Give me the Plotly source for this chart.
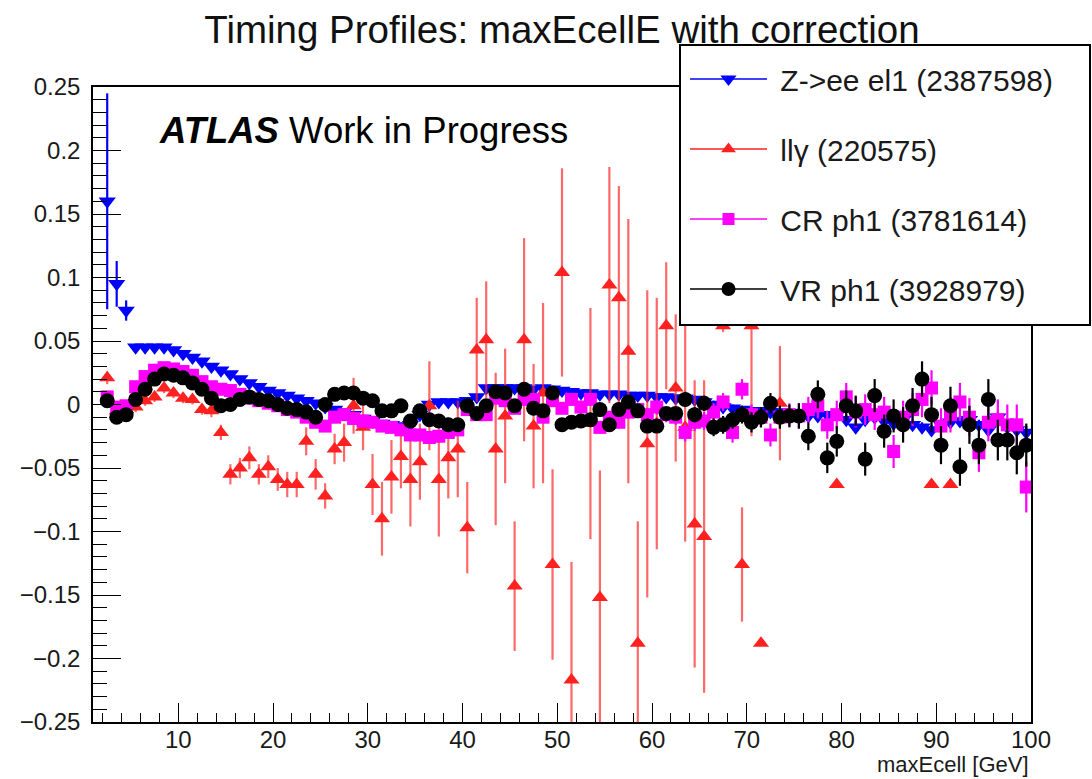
import plotly.graph_objects as go

# bin centres of maxEcell [GeV]
maxecell = [k + 0.5 for k in range(2, 100)]

zee = [0.160, 0.095, 0.074, 0.045, 0.045, 0.045, 0.045, 0.043, 0.040, 0.037,
       0.034, 0.030, 0.027, 0.024, 0.020, 0.017, 0.014, 0.011, 0.009, 0.007,
       0.005, 0.003, 0.001, -0.002, -0.004, -0.006, -0.008, -0.011, -0.013, -0.015,
       -0.016, -0.017, -0.016, -0.008, 0.000, 0.002, 0.002, 0.002, 0.003, 0.006,
       0.013, 0.013, 0.013, 0.013, 0.013, 0.012, 0.013, 0.012, 0.011, 0.010,
       0.009, 0.009, 0.008, 0.008, 0.008, 0.007, 0.007, 0.007, 0.006, 0.006,
       0.005, 0.005, 0.004, 0.002, 0.000, -0.002, -0.003, -0.004, -0.005, -0.005,
       -0.006, -0.006, -0.007, -0.008, -0.009, -0.009, -0.008, -0.008, -0.012, -0.018,
       -0.012, -0.010, -0.013, -0.015, -0.012, -0.016, -0.018, -0.020, -0.016, -0.014,
       -0.013, -0.012, -0.016, -0.020, -0.010, -0.018, -0.020, -0.022]
zee_err = [0.085, 0.018, 0.008, 0.003, 0.002, 0.002, 0.002, 0.002, 0.002, 0.002,
           0.002, 0.002, 0.002, 0.002, 0.002, 0.002, 0.002, 0.002, 0.002, 0.002,
           0.002, 0.002, 0.002, 0.002, 0.002, 0.002, 0.002, 0.002, 0.002, 0.002,
           0.002, 0.002, 0.002, 0.002, 0.002, 0.002, 0.002, 0.002, 0.002, 0.002,
           0.002, 0.002, 0.002, 0.002, 0.002, 0.002, 0.002, 0.002, 0.002, 0.002,
           0.002, 0.002, 0.002, 0.002, 0.002, 0.002, 0.002, 0.002, 0.003, 0.003,
           0.003, 0.003, 0.003, 0.003, 0.003, 0.003, 0.003, 0.003, 0.003, 0.003,
           0.003, 0.003, 0.003, 0.003, 0.003, 0.003, 0.003, 0.003, 0.004, 0.004,
           0.004, 0.004, 0.004, 0.004, 0.004, 0.004, 0.004, 0.004, 0.004, 0.004,
           0.004, 0.004, 0.004, 0.004, 0.004, 0.004, 0.004, 0.005]

llg = [0.021, -0.005, -0.004, -0.002, 0.003, 0.006, 0.013, 0.009, 0.005, 0.004,
       -0.004, -0.005, -0.022, -0.055, -0.050, -0.042, -0.055, -0.049, -0.059, -0.063,
       -0.063, -0.029, -0.055, -0.072, -0.035, -0.030, -0.001, -0.018, -0.063, -0.090,
       -0.057, -0.041, -0.059, -0.045, -0.001, -0.059, -0.042, -0.035, -0.097, 0.043,
       0.051, -0.035, -0.009, -0.143, 0.051, -0.017, 0.009, -0.126, 0.104, -0.217,
       None, -0.015, -0.152, 0.094, 0.084, 0.042, -0.188, -0.031, -0.015, 0.062,
       0.013, -0.018, -0.094, -0.104, None, 0.062, None, -0.126, 0.062, -0.188,
       None, 0.001, None, None, None, None, None, -0.063, None, None,
       None, None, None, None, None, None, None, -0.063, None, -0.063,
       None, None, None, None, None, None, None, None]
llg_err = [0.005, 0.004, 0.004, 0.004, 0.004, 0.004, 0.004, 0.004, 0.004, 0.004,
           0.004, 0.005, 0.006, 0.008, 0.008, 0.009, 0.008, 0.009, 0.009, 0.010,
           0.010, 0.011, 0.012, 0.010, 0.012, 0.015, 0.022, 0.018, 0.024, 0.029,
           0.029, 0.025, 0.037, 0.030, 0.035, 0.045, 0.032, 0.038, 0.036, 0.041,
           0.046, 0.060, 0.053, 0.051, 0.080, 0.049, 0.071, 0.075, 0.082, 0.093,
           0.0, 0.091, 0.100, 0.093, 0.088, 0.104, 0.096, 0.121, 0.099, 0.050,
           0.058, 0.090, 0.113, 0.123, 0.0, 0.005, 0.0, 0.045, 0.087, 0.0,
           0.0, 0.045, 0.0, 0.0, 0.0, 0.0, 0.0, 0.0, 0.0, 0.0,
           0.0, 0.0, 0.0, 0.0, 0.0, 0.0, 0.0, 0.0, 0.0, 0.0,
           0.0, 0.0, 0.0, 0.0, 0.0, 0.0, 0.0, 0.0]

cr = [0.006, -0.002, -0.001, 0.014, 0.022, 0.027, 0.029, 0.028, 0.026, 0.023,
      0.018, 0.014, 0.012, 0.011, 0.008, 0.005, 0.003, 0.001, -0.001, -0.004,
      -0.006, -0.010, -0.014, -0.017, -0.010, -0.008, -0.011, -0.013, -0.014, -0.017,
      -0.018, -0.020, -0.024, -0.024, -0.026, -0.025, -0.022, -0.020, -0.004, -0.008,
      -0.008, 0.005, 0.003, -0.003, 0.004, 0.004, -0.010, 0.003, -0.003, 0.004,
      -0.002, 0.004, -0.018, -0.010, -0.014, -0.006, -0.004, -0.008, -0.002, -0.008,
      -0.010, -0.022, -0.014, -0.013, -0.006, 0.002, -0.022, 0.012, -0.008, -0.010,
      -0.024, -0.010, -0.008, -0.009, -0.004, -0.001, -0.016, -0.008, 0.006, -0.006,
      -0.004, -0.008, -0.006, -0.037, -0.010, -0.004, 0.004, 0.013, -0.017, -0.008,
      0.002, -0.010, -0.038, -0.014, -0.012, -0.016, -0.016, -0.065]
cr_err = [0.003, 0.002, 0.002, 0.002, 0.002, 0.002, 0.002, 0.002, 0.002, 0.002,
          0.002, 0.002, 0.002, 0.002, 0.002, 0.002, 0.002, 0.002, 0.002, 0.002,
          0.002, 0.002, 0.002, 0.002, 0.002, 0.002, 0.002, 0.002, 0.002, 0.002,
          0.003, 0.003, 0.003, 0.003, 0.003, 0.003, 0.003, 0.003, 0.003, 0.003,
          0.004, 0.004, 0.004, 0.004, 0.004, 0.004, 0.004, 0.004, 0.004, 0.004,
          0.005, 0.005, 0.005, 0.005, 0.005, 0.005, 0.005, 0.005, 0.006, 0.006,
          0.006, 0.007, 0.007, 0.007, 0.007, 0.007, 0.008, 0.008, 0.008, 0.008,
          0.009, 0.009, 0.009, 0.010, 0.010, 0.010, 0.011, 0.011, 0.011, 0.012,
          0.012, 0.012, 0.012, 0.013, 0.013, 0.013, 0.014, 0.014, 0.014, 0.014,
          0.015, 0.015, 0.015, 0.015, 0.016, 0.016, 0.016, 0.020]

vr = [0.003, -0.010, -0.008, 0.004, 0.012, 0.020, 0.024, 0.023, 0.021, 0.017,
      0.012, 0.005, -0.001, 0.000, 0.004, 0.006, 0.004, 0.003, 0.000, -0.003,
      -0.004, -0.006, -0.010, 0.000, 0.008, 0.009, 0.009, 0.005, 0.003, -0.005,
      -0.005, -0.001, -0.013, -0.005, -0.012, -0.013, -0.016, -0.016, -0.001, -0.007,
      -0.001, 0.010, 0.009, -0.001, 0.012, -0.003, -0.005, 0.009, -0.016, -0.014,
      -0.013, -0.012, -0.004, -0.016, -0.004, 0.002, -0.005, -0.017, -0.017, -0.007,
      -0.007, 0.004, -0.008, 0.001, -0.018, -0.016, -0.012, -0.008, -0.014, -0.010,
      0.001, -0.010, -0.009, -0.009, -0.025, 0.008, -0.042, -0.029, -0.001, -0.005,
      -0.043, 0.007, -0.021, -0.009, -0.016, -0.001, 0.020, -0.008, -0.032, -0.001,
      -0.049, -0.016, -0.032, 0.004, -0.028, -0.028, -0.038, -0.032]
vr_err = [0.003, 0.002, 0.002, 0.002, 0.002, 0.002, 0.002, 0.002, 0.002, 0.002,
          0.002, 0.002, 0.002, 0.002, 0.002, 0.002, 0.002, 0.002, 0.002, 0.002,
          0.002, 0.002, 0.002, 0.002, 0.002, 0.002, 0.002, 0.002, 0.003, 0.003,
          0.003, 0.003, 0.003, 0.003, 0.003, 0.003, 0.003, 0.003, 0.003, 0.003,
          0.003, 0.003, 0.004, 0.004, 0.004, 0.004, 0.004, 0.004, 0.004, 0.004,
          0.004, 0.004, 0.004, 0.004, 0.005, 0.005, 0.005, 0.005, 0.005, 0.005,
          0.005, 0.006, 0.006, 0.006, 0.007, 0.007, 0.007, 0.007, 0.008, 0.008,
          0.008, 0.009, 0.009, 0.010, 0.011, 0.011, 0.012, 0.012, 0.012, 0.012,
          0.013, 0.013, 0.013, 0.013, 0.014, 0.014, 0.014, 0.014, 0.015, 0.015,
          0.015, 0.015, 0.015, 0.016, 0.016, 0.016, 0.017, 0.017]

legend_labels = ["Z->ee el1 (2387598)", "llγ (220575)", "CR ph1 (3781614)", "VR ph1 (3928979)"]
y_tickvals = [-0.25, -0.2, -0.15, -0.1, -0.05, 0.0, 0.05, 0.1, 0.15, 0.2, 0.25]
y_ticktext = ["\u22120.25", "\u22120.2", "\u22120.15", "\u22120.1", "\u22120.05", "0",
              "0.05", "0.1", "0.15", "0.2", "0.25"]
x_tickvals = [10, 20, 30, 40, 50, 60, 70, 80, 90, 100]
x_ticktext = ["10", "20", "30", "40", "50", "60", "70", "80", "90", "100"]

FONT = "Liberation Sans, Arial, Helvetica, sans-serif"
W, H = 1092, 779
L, R, T, B = 93, 61, 87, 57
PW, PH = W - L - R, H - T - B


def px_x(p):
    return (p - L) / PW


def px_y(p):
    return (H - B - p) / PH


styles = [
    dict(name=legend_labels[0], y=zee, err=zee_err, color="#0000ff", ecolor="#0000ff",
         symbol="triangle-down", size=15),
    dict(name=legend_labels[1], y=llg, err=llg_err, color="#ff2020", ecolor="rgba(255,40,40,0.7)",
         symbol="triangle-up", size=14),
    dict(name=legend_labels[2], y=cr, err=cr_err, color="#ff00ff", ecolor="#ff00ff",
         symbol="square", size=13),
    dict(name=legend_labels[3], y=vr, err=vr_err, color="#000000", ecolor="#000000",
         symbol="circle", size=15),
]

fig = go.Figure()
for s in styles:
    fig.add_trace(go.Scatter(
        x=maxecell, y=s["y"], mode="markers", showlegend=False,
        marker=dict(symbol=s["symbol"], size=s["size"], color=s["color"], line=dict(width=0)),
        error_y=dict(type="data", array=s["err"], visible=True, thickness=2.2, width=0,
                     color=s["ecolor"]),
        hoverinfo="x+y",
    ))
for i, s in enumerate(styles):
    fig.add_trace(go.Scatter(
        x=[None], y=[None], mode="lines+markers", name="\u00a0" + s["name"],
        legendgroup="g%d" % i,
        line=dict(color=s["color"], width=1.5),
        marker=dict(symbol=s["symbol"], size=s["size"] - 1, color=s["color"]),
    ))

axis_common = dict(showline=True, linecolor="#000000", linewidth=1.5, mirror=True,
                   ticks="inside", tickcolor="#000000", tickwidth=1.3, showgrid=False,
                   zeroline=False, tickfont=dict(family=FONT, size=24, color="#1a1a1a"))

fig.update_layout(
    width=W, height=H,
    margin=dict(l=L, r=R, t=T, b=B, pad=0),
    paper_bgcolor="white", plot_bgcolor="white",
    font=dict(family=FONT, color="#1a1a1a"),
    title=dict(text="Timing Profiles: maxEcellE with correction", x=562 / W, xanchor="center",
               xref="container", y=1 - 30 / H, yanchor="middle", yref="container",
               font=dict(family=FONT, size=38.5, color="#111111")),
    xaxis=dict(range=[1, 100], tickvals=x_tickvals, ticktext=x_ticktext, ticklen=19,
               minor=dict(dtick=2, tick0=0, ticklen=9, ticks="inside", tickcolor="#000000",
                          tickwidth=1.3, showgrid=False),
               ticklabelstandoff=-5, **axis_common),
    yaxis=dict(range=[-0.25, 0.25], tickvals=y_tickvals, ticktext=y_ticktext, ticklen=28,
               minor=dict(dtick=0.01, tick0=0, ticklen=14, ticks="inside", tickcolor="#000000",
                          tickwidth=1.3, showgrid=False),
               ticklabelstandoff=6, **axis_common),
    legend=dict(x=px_x(685), y=px_y(53), xanchor="left", yanchor="top",
                bgcolor="rgba(0,0,0,0)", borderwidth=0, tracegroupgap=28, itemwidth=77,
                font=dict(family=FONT, size=30, color="#1a1a1a"), traceorder="grouped"),
    shapes=[dict(type="rect", xref="paper", yref="paper", x0=px_x(680), x1=px_x(1090),
                 y0=px_y(325), y1=px_y(45), fillcolor="white",
                 line=dict(color="#000000", width=2), layer="above")],
    annotations=[
        dict(text="<b><i>ATLAS</i></b> Work in Progress", xref="paper", yref="paper",
             x=px_x(157), y=px_y(130), xanchor="left", yanchor="middle", showarrow=False,
             font=dict(family=FONT, size=36.5, color="#000000")),
        dict(text="maxEcell [GeV]", xref="paper", yref="paper", x=1.0, y=px_y(764),
             xanchor="right", yanchor="middle", showarrow=False,
             font=dict(family=FONT, size=22, color="#1a1a1a")),
    ],
)

fig.write_html("out.html")
